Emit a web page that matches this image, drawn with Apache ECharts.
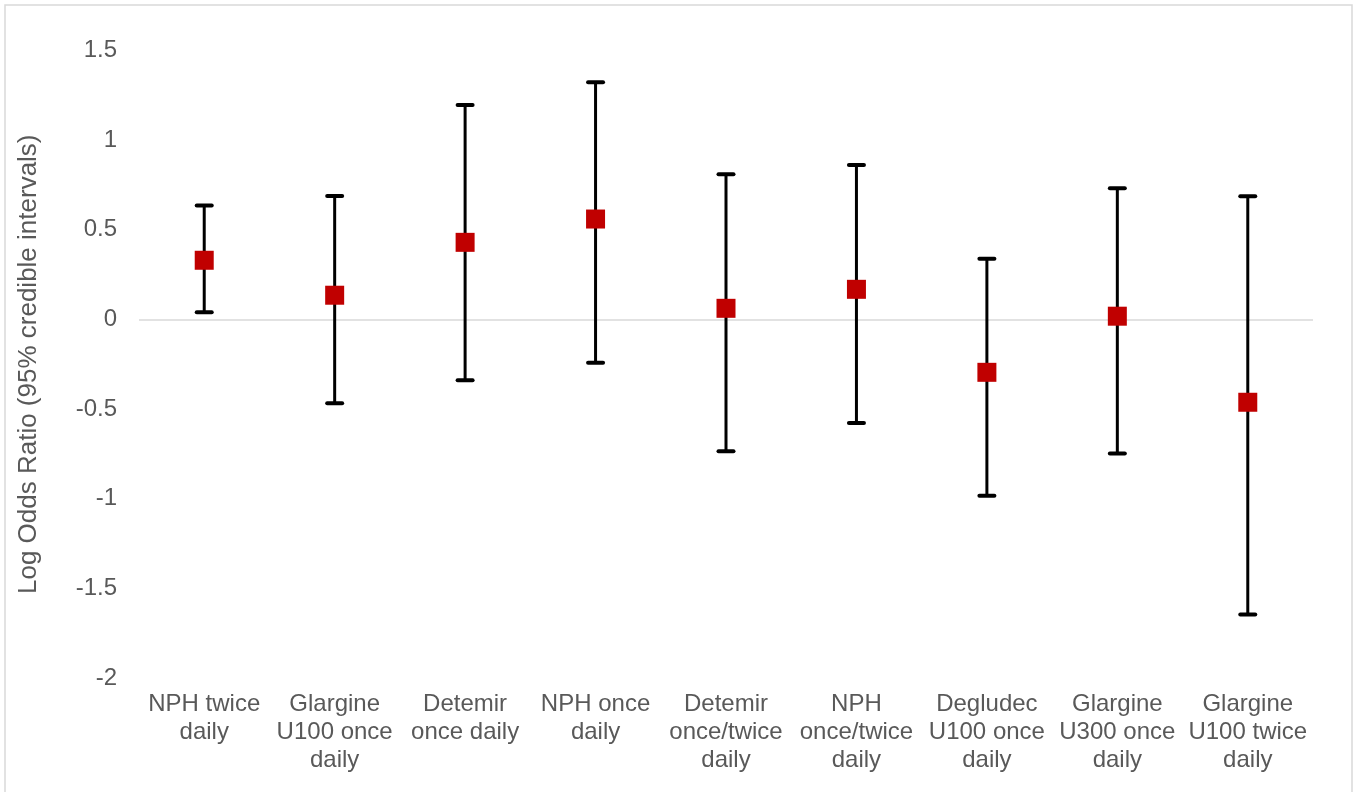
<!DOCTYPE html>
<html>
<head>
<meta charset="utf-8">
<title>Log Odds Ratio</title>
<script src="https://cdn.jsdelivr.net/npm/echarts@6/dist/echarts.min.js"></script>
<style>
  html, body { margin: 0; padding: 0; background: #ffffff; }
  #chart { width: 1358px; height: 792px; }
</style>
</head>
<body>
<div id="chart"></div>
<script>
// Insulin regimens (x axis categories)
const categories = [
  'NPH twice\ndaily',
  'Glargine\nU100 once\ndaily',
  'Detemir\nonce daily',
  'NPH once\ndaily',
  'Detemir\nonce/twice\ndaily',
  'NPH\nonce/twice\ndaily',
  'Degludec\nU100 once\ndaily',
  'Glargine\nU300 once\ndaily',
  'Glargine\nU100 twice\ndaily'
];

// Point estimates and 95% credible interval bounds (log odds ratio)
const estimate = [0.33, 0.135, 0.43, 0.56, 0.062, 0.168, -0.295, 0.018, -0.462];
const lower    = [0.04, -0.467, -0.339, -0.241, -0.735, -0.577, -0.983, -0.748, -1.646];
const upper    = [0.635, 0.689, 1.196, 1.323, 0.81, 0.862, 0.339, 0.732, 0.687];

const TEXT = '#595959';
const FONT = '"Liberation Sans", Arial, sans-serif';

const chart = echarts.init(document.getElementById('chart'), null, { renderer: 'canvas' });

const intervalData = categories.map((c, i) => [i, lower[i], upper[i]]);
const pointData = categories.map((c, i) => [i, estimate[i]]);

chart.setOption({
  backgroundColor: '#ffffff',
  animation: false,
  textStyle: { fontFamily: FONT },
  graphic: [{
    type: 'rect',
    shape: { x: 5, y: 5, width: 1347, height: 800 },
    style: { fill: 'none', stroke: '#d9d9d9', lineWidth: 1.5 },
    silent: true,
    z: 0
  }],
  grid: { left: 139, right: 45, top: 50.5, bottom: 114, containLabel: false },
  xAxis: {
    type: 'category',
    data: categories,
    axisLine: { show: false, onZero: false },
    axisTick: { show: false },
    splitLine: { show: false },
    axisLabel: {
      color: TEXT,
      fontSize: 24,
      lineHeight: 27.6,
      margin: 13,
      interval: 0,
      fontFamily: FONT
    }
  },
  yAxis: {
    type: 'value',
    min: -2,
    max: 1.5,
    interval: 0.5,
    name: 'Log Odds Ratio (95% credible intervals)',
    nameLocation: 'middle',
    nameGap: 97,
    nameTextStyle: { color: TEXT, fontSize: 26, fontFamily: FONT },
    axisLine: { show: false },
    axisTick: { show: false },
    splitLine: { show: false },
    axisLabel: { color: TEXT, fontSize: 24, margin: 22, fontFamily: FONT }
  },
  series: [
    {
      type: 'custom',
      name: 'interval',
      data: intervalData,
      z: 2,
      renderItem: function (params, api) {
        const x = api.value(0);
        const lo = api.coord([x, api.value(1)]);
        const hi = api.coord([x, api.value(2)]);
        const half = 7.5;
        return {
          type: 'group',
          children: [
            { type: 'line', shape: { x1: lo[0], y1: lo[1], x2: hi[0], y2: hi[1] },
              style: { stroke: '#000000', lineWidth: 3 } },
            { type: 'line', shape: { x1: hi[0] - half, y1: hi[1], x2: hi[0] + half, y2: hi[1] },
              style: { stroke: '#000000', lineWidth: 4, lineCap: 'round' } },
            { type: 'line', shape: { x1: lo[0] - half, y1: lo[1], x2: lo[0] + half, y2: lo[1] },
              style: { stroke: '#000000', lineWidth: 4, lineCap: 'round' } }
          ]
        };
      }
    },
    {
      type: 'scatter',
      name: 'estimate',
      data: pointData,
      symbol: 'rect',
      symbolSize: 19,
      z: 3,
      itemStyle: { color: '#C00000', opacity: 1 },
      markLine: {
        silent: true,
        symbol: 'none',
        label: { show: false },
        lineStyle: { color: '#d9d9d9', width: 1.5, type: 'solid' },
        data: [{ yAxis: 0 }],
        z: 1
      }
    }
  ]
});
</script>
</body>
</html>
